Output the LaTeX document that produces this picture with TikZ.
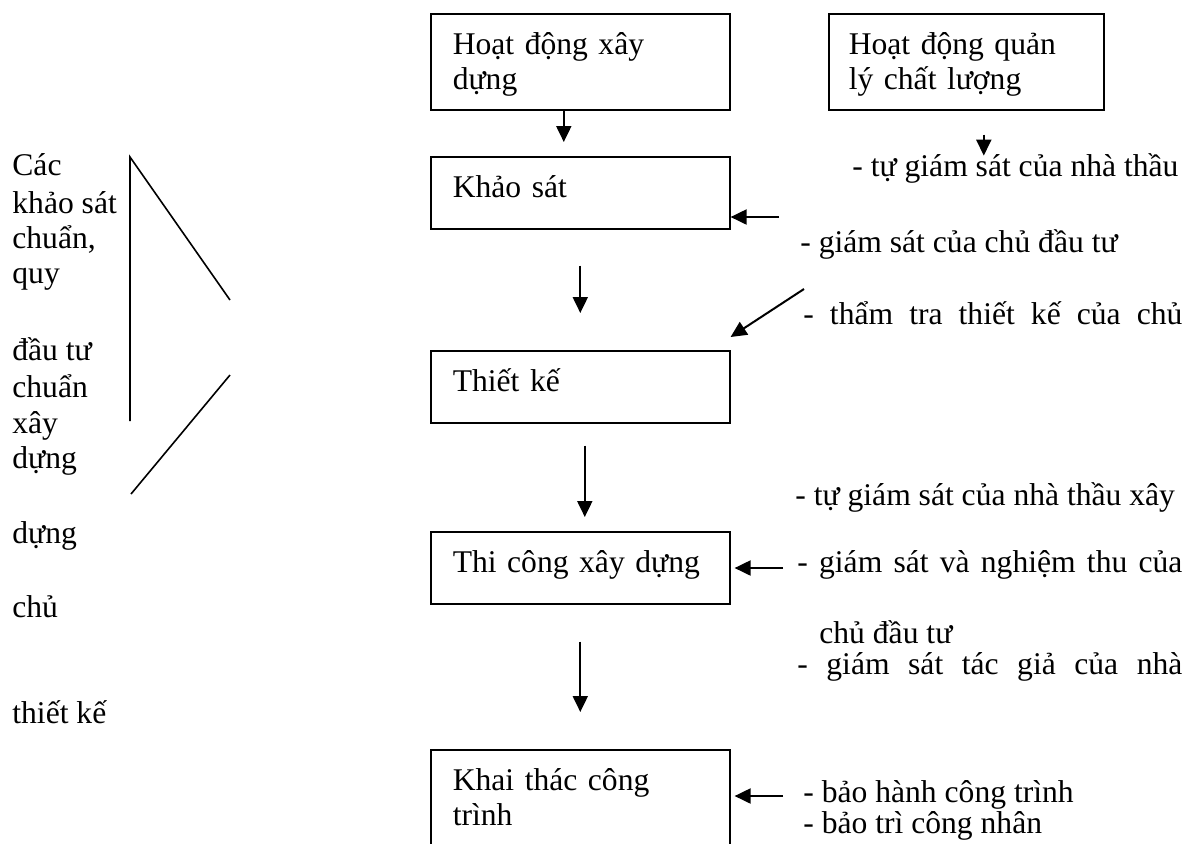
\documentclass[tikz,border=0pt]{standalone}
\usepackage{fontspec}
\setmainfont{Liberation Serif}
\usetikzlibrary{arrows.meta}
\tikzset{every node/.style={inner sep=0pt,font=\fontsize{15.8}{17.5}\selectfont},
  stage/.style={draw,line width=0.8pt,anchor=north west,inner xsep=11pt,inner ysep=0pt,
    text width=127.5pt,align=left,text height=20.5pt,text depth=15.5pt},
  note/.style={anchor=base west},
  arr/.style={line width=1pt,-{Triangle[length=8pt,width=7.5pt]}}}

\begin{document}
\begin{tikzpicture}[x=0.5pt,y=-0.5pt]
      \clip (0,0) rectangle (1196,843);
      \node[stage,text depth=27.5pt] (xd) at (430,13) {Hoạt động xây\\dựng};
      \node[stage] (ks) at (430,156) {Khảo sát};
      \node[stage] (tk) at (430,350) {Thiết kế};
      \node[stage] (tc) at (430,531) {Thi công xây dựng};
      \node[stage,text depth=33pt] (kt) at (430,749) {Khai thác công\\trình};
      \node[stage,text depth=27.5pt,inner xsep=10pt,text width=117.5pt] (cl) at (828,13) {Hoạt động quản\\lý chất lượng};

      \node[note] (t1) at (852,176) {- tự giám sát của nhà thầu};
      \node[note] (t2) at (800,252) {- giám sát của chủ đầu tư};
      \node[note] (t3) at (803,324) {\makebox[189.5pt][s]{- thẩm tra thiết kế của chủ}};
      \node[note] (t4) at (795,505) {- tự giám sát của nhà thầu xây};
      \node[note] (t5) at (797,572) {\makebox[192.5pt][s]{- giám sát và nghiệm thu của}};
      \node[note] (t6) at (819,643) {chủ đầu tư};
      \node[note] (t7) at (797,674) {\makebox[192.5pt][s]{- giám sát tác giả của nhà}};
      \node[note] (t8) at (803,802) {- bảo hành công trình};
      \node[note] (t9) at (803,833) {- bảo trì công nhân};

\foreach \y/\w in {175/Các,213/khảo sát,248/{chuẩn,},283/quy,360/đầu tư,397/chuẩn,433/xây,468/dựng,543/dựng,617/chủ,723/thiết kế}
  \node[note] (l\y) at (12,\y) {\w};

      \coordinate (a1) at (779,217);
      \coordinate (a2) at (804,289);
      \coordinate (a3) at (783,568);
      \coordinate (a4) at (783,796);

\draw[arr,shorten >=7pt] ([xshift=-8.25pt]xd.south) -- ([xshift=-8.25pt]ks.north);
\draw[arr,shorten <=18pt,shorten >=18.5pt] (ks) -- (tk);
\draw[arr,shorten <=11pt,shorten >=7pt] ([xshift=2.25pt]tk.south) -- ([xshift=2.25pt]tc.north);
\draw[arr,shorten <=18.5pt,shorten >=18.5pt] (tc) -- (kt);
\draw[arr,shorten <=12pt] ([xshift=8.75pt]cl.south) -- ++(0,45);
\draw[arr] (a1) -- (a1 -| ks.east);
\draw[arr] (a2) -- ([yshift=6.5pt]tk.north east);
\draw[arr,shorten >=2pt] (a3) -- (a3 -| tc.east);
\draw[arr,shorten >=2pt] (a4) -- (a4 -| kt.east);

\draw[line width=0.8pt] (230,300) -- (130,157) -- (130,421);
\draw[line width=0.8pt] (230,375) -- (131,494);
    \end{tikzpicture}
\end{document}
